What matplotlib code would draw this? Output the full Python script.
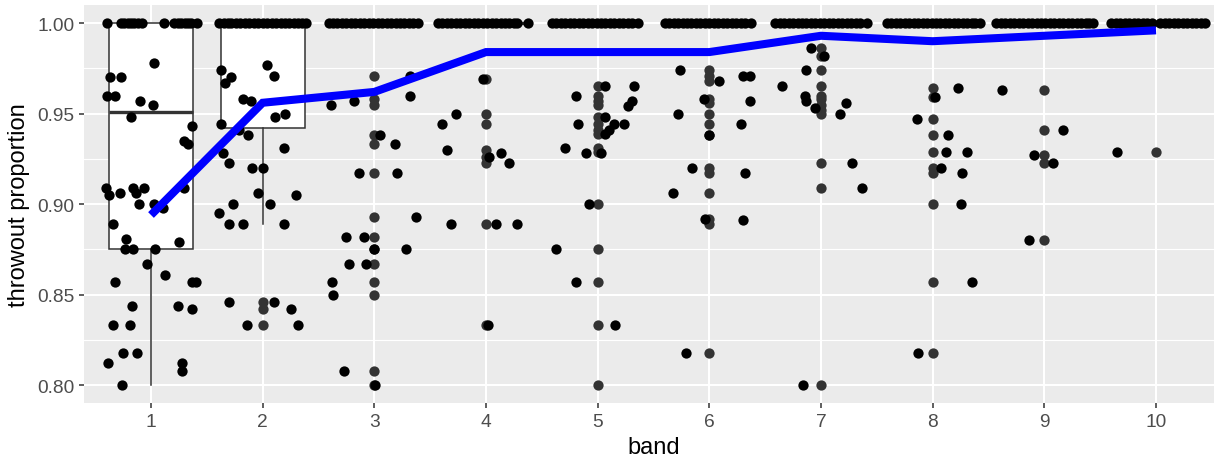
import matplotlib.pyplot as plt
from matplotlib.ticker import MultipleLocator, NullLocator

plt.rcParams['font.family'] = ['Liberation Sans', 'DejaVu Sans']

# --- data
bands = [1, 2, 3, 4, 5, 6, 7, 8, 9, 10]
mean_prop = [0.894, 0.956, 0.962, 0.984, 0.984, 0.984, 0.993, 0.990, 0.993, 0.996]

# boxplot summary per band
box_q1 = [0.875, 0.942, 1.0, 1.0, 1.0, 1.0, 1.0, 1.0, 1.0, 1.0]
box_med = [0.951, 1.0, 1.0, 1.0, 1.0, 1.0, 1.0, 1.0, 1.0, 1.0]
box_q3 = [1.0, 1.0, 1.0, 1.0, 1.0, 1.0, 1.0, 1.0, 1.0, 1.0]
box_lo = [0.800, 0.889, 1.0, 1.0, 1.0, 1.0, 1.0, 1.0, 1.0, 1.0]
box_hi = [1.0, 1.0, 1.0, 1.0, 1.0, 1.0, 1.0, 1.0, 1.0, 1.0]
outliers = [
    [],
    [0.846, 0.842, 0.833],
    [0.971, 0.958, 0.955, 0.938, 0.933, 0.917, 0.893, 0.882, 0.875, 0.867, 0.857, 0.850, 0.808, 0.800],
    [0.969, 0.950, 0.944, 0.930, 0.926, 0.923, 0.889, 0.833],
    [0.965, 0.960, 0.957, 0.955, 0.948, 0.944, 0.941, 0.939, 0.931, 0.929, 0.900, 0.875, 0.857, 0.833, 0.800],
    [0.974, 0.971, 0.968, 0.958, 0.956, 0.950, 0.944, 0.938, 0.920, 0.917, 0.906, 0.892, 0.889, 0.818],
    [0.986, 0.982, 0.974, 0.965, 0.960, 0.958, 0.955, 0.952, 0.950, 0.923, 0.909, 0.800],
    [0.964, 0.959, 0.947, 0.938, 0.929, 0.920, 0.917, 0.900, 0.857, 0.818],
    [0.963, 0.941, 0.927, 0.923, 0.880],
    [0.929],
]

# jittered points below 1.00
jit_x = [
    # band 1
    1.030, 0.636, 0.731, 0.606, 0.680, 0.901, 1.021, 0.824, 1.364, 1.293, 1.329, 0.597, 0.621,
    0.722, 0.836, 0.866, 0.940, 0.889, 1.030, 1.105, 1.293, 0.662, 0.776, 0.770, 0.842, 1.036,
    1.254, 0.964, 1.128, 0.674, 1.364, 1.403, 0.830, 1.245, 1.367, 0.662, 0.812, 0.752, 0.872,
    0.612, 1.281, 1.281, 0.737,
    # band 2
    1.627, 1.663, 1.717, 2.039, 2.099, 1.827, 1.896, 2.114, 2.204, 1.627, 1.866, 1.786, 2.189,
    1.648, 1.702, 1.902, 2.001, 1.962, 2.299, 1.732, 2.066, 1.606, 1.702, 1.821, 2.195, 1.702,
    2.105, 1.857, 2.320, 2.254,
    # band 3
    2.609, 2.815, 3.317, 3.317, 3.048, 3.182, 2.860, 3.206, 3.376, 2.743, 2.904, 2.997, 3.287,
    2.773, 2.928, 2.621, 2.630, 2.731, 3.003,
    # band 4
    3.604, 3.733, 3.649, 3.688, 3.970, 4.031, 4.136, 4.202, 4.091, 4.276, 4.016,
    # band 5
    5.069, 5.326, 4.803, 5.272, 5.308, 4.821, 5.069, 5.143, 5.233, 5.102, 5.069, 4.704, 4.892,
    5.033, 4.922, 4.624, 4.803, 5.158,
    # band 6
    5.734, 6.084, 5.952, 6.302, 6.367, 6.361, 5.719, 6.287, 6.000, 5.845, 6.317, 5.674, 5.958,
    6.302, 5.788,
    # band 7
    6.907, 7.027, 6.866, 6.654, 6.854, 6.869, 6.943, 7.173, 7.221, 6.836, 7.278, 7.370,
    # band 8
    8.227, 8.024, 7.860, 8.134, 8.122, 8.311, 8.072, 8.266, 8.251, 8.353, 7.869,
    # band 9
    8.618, 9.167, 8.904, 9.078, 8.863,
    # band 10
    9.654,
]
jit_y = [
    # band 1
    0.978, 0.970, 0.970, 0.960, 0.960, 0.957, 0.955, 0.948, 0.943, 0.935, 0.933, 0.909, 0.905,
    0.906, 0.909, 0.906, 0.909, 0.900, 0.900, 0.898, 0.909, 0.889, 0.881, 0.875, 0.875, 0.875,
    0.879, 0.867, 0.861, 0.857, 0.857, 0.857, 0.844, 0.844, 0.842, 0.833, 0.833, 0.818, 0.818,
    0.812, 0.812, 0.808, 0.800,
    # band 2
    0.974, 0.967, 0.970, 0.977, 0.971, 0.958, 0.957, 0.948, 0.950, 0.944, 0.938, 0.941, 0.931,
    0.928, 0.923, 0.920, 0.920, 0.906, 0.905, 0.900, 0.900, 0.895, 0.889, 0.889, 0.889, 0.846,
    0.846, 0.833, 0.833, 0.842,
    # band 3
    0.955, 0.957, 0.971, 0.960, 0.938, 0.933, 0.917, 0.917, 0.893, 0.882, 0.882, 0.875, 0.875,
    0.867, 0.867, 0.857, 0.850, 0.808, 0.800,
    # band 4
    0.944, 0.950, 0.930, 0.889, 0.969, 0.926, 0.928, 0.923, 0.889, 0.889, 0.833,
    # band 5
    0.965, 0.965, 0.960, 0.954, 0.957, 0.944, 0.948, 0.944, 0.944, 0.941, 0.939, 0.931, 0.928,
    0.928, 0.900, 0.875, 0.857, 0.833,
    # band 6
    0.974, 0.968, 0.958, 0.971, 0.971, 0.957, 0.950, 0.944, 0.938, 0.920, 0.917, 0.906, 0.892,
    0.891, 0.818,
    # band 7
    0.986, 0.982, 0.974, 0.965, 0.960, 0.957, 0.953, 0.950, 0.956, 0.800, 0.923, 0.909,
    # band 8
    0.964, 0.959, 0.947, 0.938, 0.929, 0.929, 0.920, 0.917, 0.900, 0.857, 0.818,
    # band 9
    0.963, 0.941, 0.927, 0.923, 0.880,
    # band 10
    0.929,
]

# jittered x of the points sitting at 1.00
ones_x = [
    0.61, 0.73, 0.76, 0.79, 0.82, 0.85, 0.88, 0.92, 1.12, 1.21, 1.24, 1.27, 1.30, 1.33, 1.36, 1.41,
    1.61, 1.65, 1.69, 1.72, 1.76, 1.80, 1.84, 1.88, 1.92, 1.96, 2.00, 2.04, 2.08, 2.12, 2.16, 2.20,
    2.24, 2.28, 2.32, 2.35, 2.39,
    2.59, 2.63, 2.67, 2.71, 2.75, 2.79, 2.83, 2.87, 2.91, 2.95, 2.99, 3.03, 3.07, 3.11, 3.15, 3.19,
    3.23, 3.27, 3.31, 3.35, 3.39,
    3.57, 3.61, 3.65, 3.69, 3.73, 3.77, 3.81, 3.85, 3.89, 3.93, 3.97, 4.01, 4.05, 4.09, 4.13, 4.17,
    4.21, 4.25, 4.28, 4.38,
    4.59, 4.63, 4.67, 4.71, 4.75, 4.79, 4.83, 4.87, 4.91, 4.95, 4.99, 5.03, 5.07, 5.11, 5.15, 5.19,
    5.23, 5.27, 5.31, 5.36,
    5.60, 5.64, 5.68, 5.72, 5.76, 5.80, 5.84, 5.88, 5.92, 5.96, 6.00, 6.04, 6.08, 6.12, 6.16, 6.20,
    6.24, 6.28, 6.32, 6.37,
    6.59, 6.63, 6.67, 6.71, 6.75, 6.79, 6.83, 6.87, 6.91, 6.95, 6.99, 7.03, 7.07, 7.11, 7.15, 7.19,
    7.23, 7.27, 7.31, 7.35, 7.41,
    7.59, 7.63, 7.67, 7.71, 7.75, 7.79, 7.83, 7.87, 7.91, 7.95, 7.99, 8.03, 8.07, 8.11, 8.15, 8.19,
    8.23, 8.27, 8.31, 8.35, 8.38, 8.42,
    8.57, 8.61, 8.65, 8.69, 8.73, 8.77, 8.81, 8.85, 8.89, 8.93, 8.97, 9.01, 9.05, 9.09, 9.13, 9.17,
    9.21, 9.25, 9.29, 9.33, 9.37, 9.40, 9.44,
    9.60, 9.64, 9.68, 9.72, 9.76, 9.80, 9.84, 9.88, 9.92, 9.96, 10.04, 10.08, 10.12, 10.16, 10.20,
    10.24, 10.28, 10.32, 10.36, 10.40, 10.44,
]

# --- figure
fig = plt.figure(figsize=(12.14, 4.64), dpi=100)
ax = fig.add_axes([84 / 1214, 59.7 / 464, 1139 / 1214, 398.3 / 464])
ax.set_facecolor('#EBEBEB')
for s in ax.spines.values():
    s.set_visible(False)

ax.set_xlim(0.4, 10.6)
ax.set_ylim(0.79, 1.01)
ax.set_xticks(bands)
ax.set_yticks([0.80, 0.85, 0.90, 0.95, 1.00])
ax.set_yticklabels(['0.80', '0.85', '0.90', '0.95', '1.00'])
ax.yaxis.set_minor_locator(MultipleLocator(0.025))
ax.xaxis.set_minor_locator(NullLocator())
ax.grid(which='major', color='white', linewidth=1.5)
ax.grid(which='minor', axis='y', color='white', linewidth=0.8)
ax.set_axisbelow(True)
ax.tick_params(which='major', colors='#333333', length=3.6, width=1.1,
               labelsize=13.8, labelcolor='#4D4D4D', pad=3.5)
ax.tick_params(which='minor', length=0)

stats = []
for i in range(len(bands)):
    stats.append(dict(q1=box_q1[i], med=box_med[i], q3=box_q3[i],
                      whislo=box_lo[i], whishi=box_hi[i], fliers=outliers[i]))
ax.bxp(stats, positions=bands, widths=0.75, patch_artist=True, showcaps=False,
       manage_ticks=False,
       boxprops=dict(facecolor='white', edgecolor='#333333', linewidth=1.1),
       whiskerprops=dict(color='#333333', linewidth=1.1),
       medianprops=dict(color='#333333', linewidth=2.4),
       flierprops=dict(marker='o', markerfacecolor='#333333', markeredgecolor='none',
                       markersize=7.4))

ax.scatter(jit_x, jit_y, s=55, color='black', linewidths=0, zorder=4)
ax.scatter(ones_x, [1.0] * len(ones_x), s=55, color='black', linewidths=0, zorder=4)

ax.plot(bands, mean_prop, color='#0000FF', linewidth=5.8, solid_joinstyle='miter',
        solid_capstyle='butt', zorder=5)

ax.set_xlabel('band', fontsize=17, color='black', labelpad=4)
ax.set_ylabel('throwout proportion', fontsize=17, color='black', labelpad=5)

fig.savefig('out.png', dpi=100)
